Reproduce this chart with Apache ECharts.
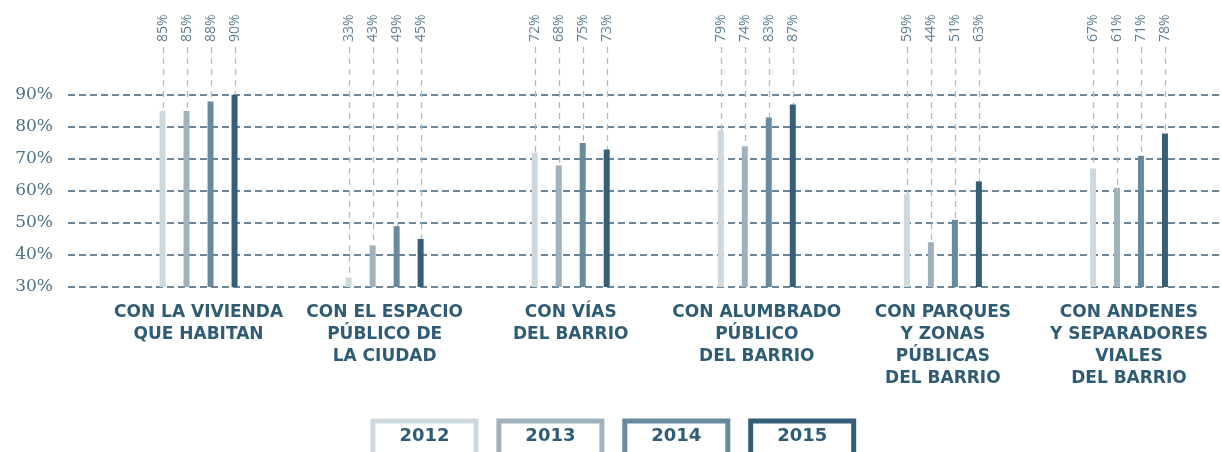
<!DOCTYPE html>
<html>
<head>
<meta charset="utf-8">
<script src="https://cdn.jsdelivr.net/npm/echarts@6/dist/echarts.min.js"></script>
<style>
html,body{margin:0;padding:0;background:#fff;}
#main{width:1222px;height:452px;}
</style>
</head>
<body>
<div id="main"></div>
<script>
const categories = [
  'CON LA VIVIENDA\nQUE HABITAN',
  'CON EL ESPACIO\nPÚBLICO DE\nLA CIUDAD',
  'CON VÍAS\nDEL BARRIO',
  'CON ALUMBRADO\nPÚBLICO\nDEL BARRIO',
  'CON PARQUES\nY ZONAS\nPÚBLICAS\nDEL BARRIO',
  'CON ANDENES\nY SEPARADORES\nVIALES\nDEL BARRIO'
];
const years = ['2012', '2013', '2014', '2015'];
const v2012 = [85, 33, 72, 79, 59, 67];
const v2013 = [85, 43, 68, 74, 44, 61];
const v2014 = [88, 49, 75, 83, 51, 71];
const v2015 = [90, 45, 73, 87, 63, 78];
const yTicks = [30, 40, 50, 60, 70, 80, 90];

const seriesValues = [v2012, v2013, v2014, v2015];
const colors = ['#cdd9df', '#9eb1bc', '#678a9c', '#355f77'];
const textDark = '#2f5c75';
const barW = 6, pitch = 24;

const series = [];
seriesValues.forEach((vals, si) => {
  series.push({
    name: years[si], type: 'bar', xAxisIndex: 1, yAxisIndex: 1,
    data: vals, barWidth: barW, barGap: ((pitch - barW) / barW * 100) + '%',
    itemStyle: { color: colors[si] }, z: 3
  });
});
seriesValues.forEach((vals, si) => {
  const offset = (si - 1.5) * pitch;
  series.push({
    type: 'custom', xAxisIndex: 1, yAxisIndex: 1, clip: false, z: 2,
    silent: true,
    data: vals.map((v, i) => [i, v]),
    renderItem: function (params, api) {
      const p = api.coord([api.value(0), api.value(1)]);
      const x = Math.round(p[0] + offset) + 0.5;
      return {
        type: 'group',
        children: [
          { type: 'line', shape: { x1: x, y1: 47, x2: x, y2: p[1] },
            style: { stroke: '#a9bcc7', lineWidth: 1.3, lineDash: [6, 5] } },
          { type: 'text', x: x, y: 42, rotation: Math.PI / 2,
            style: { text: api.value(1) + '%', textAlign: 'left', textVerticalAlign: 'middle',
              fill: '#5d7e92', font: '14px "Open Sans"' } }
        ]
      };
    }
  });
});

const chart = echarts.init(document.getElementById('main'), null, { renderer: 'canvas' });
chart.setOption({
  animation: false,
  backgroundColor: '#fff',
  grid: [
    { left: 68, right: 0, top: 95, bottom: 165 },
    { left: 105.5, width: 1122, top: 95, bottom: 165 }
  ],
  xAxis: [
    { gridIndex: 0, type: 'value', show: false, min: 0, max: 1 },
    { gridIndex: 1, type: 'category', data: categories,
      axisLine: { show: false }, axisTick: { show: false },
      axisLabel: { interval: 0, margin: 15, color: textDark,
        fontFamily: 'DejaVu Sans', fontWeight: 'bold', fontSize: 17, lineHeight: 22, align: 'center' } }
  ],
  yAxis: [
    { gridIndex: 0, type: 'value', min: yTicks[0], max: yTicks[yTicks.length - 1], interval: 10,
      axisLine: { show: false }, axisTick: { show: false },
      axisLabel: { formatter: '{value}%', margin: 15, color: '#4e7188',
        fontFamily: 'DejaVu Serif', fontSize: 17 },
      splitLine: { show: true, lineStyle: { color: '#6b8699', width: 2, type: [7, 4] } } },
    { gridIndex: 1, type: 'value', min: yTicks[0], max: yTicks[yTicks.length - 1], interval: 10, show: false,
      splitLine: { show: false } }
  ],
  legend: {
    left: 368, top: 418.5, padding: 0, itemGap: 15.4, itemWidth: 0, itemHeight: 0,
    selectedMode: false,
    formatter: function (name) { return '{t|' + name + '}'; },
    data: years.map((y, i) => ({
      name: y, icon: 'rect',
      textStyle: { borderColor: colors[i], borderWidth: 5,
        padding: [4, 0, 18, 0], color: textDark, fontFamily: 'DejaVu Sans', fontWeight: 'bold',
        fontSize: 18,
        rich: { t: { width: 103, height: 22, lineHeight: 22, align: 'center', color: textDark,
          fontFamily: 'DejaVu Sans', fontWeight: 'bold', fontSize: 18 } } }
    }))
  },
  series: series
});
</script>
</body>
</html>
